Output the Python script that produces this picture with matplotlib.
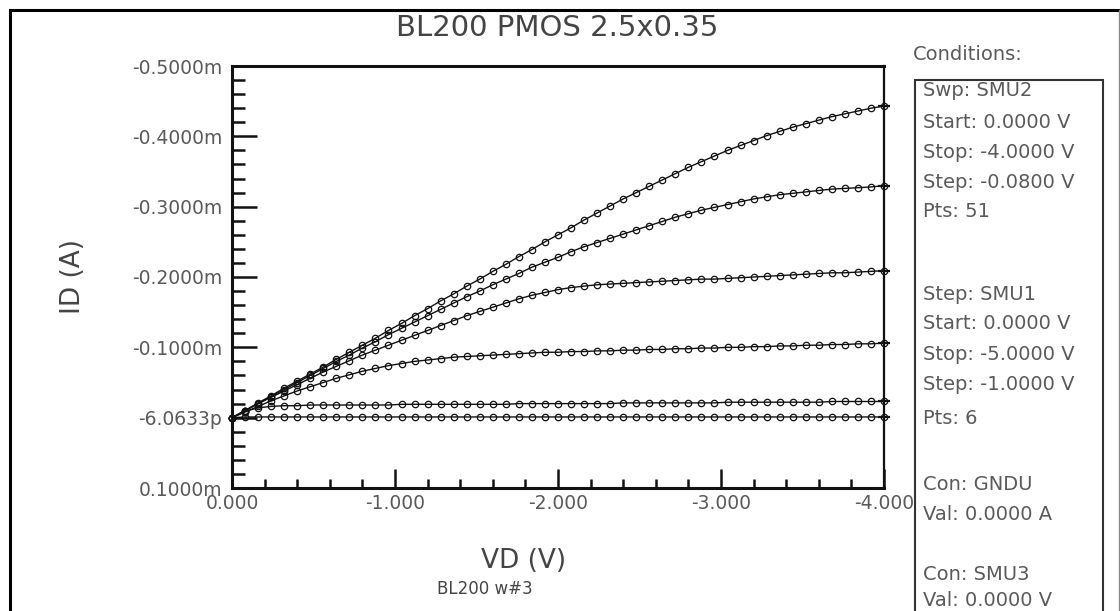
import matplotlib
matplotlib.use("Agg")
import matplotlib.pyplot as plt
from matplotlib.ticker import MultipleLocator, FixedLocator, FixedFormatter
from matplotlib.patches import Rectangle
from matplotlib.lines import Line2D

# sweep SMU2: 0 -> -4 V, 51 pts
vd = [0.00, -0.08, -0.16, -0.24, -0.32, -0.40, -0.48, -0.56, -0.64, -0.72,
      -0.80, -0.88, -0.96, -1.04, -1.12, -1.20, -1.28, -1.36, -1.44, -1.52,
      -1.60, -1.68, -1.76, -1.84, -1.92, -2.00, -2.08, -2.16, -2.24, -2.32,
      -2.40, -2.48, -2.56, -2.64, -2.72, -2.80, -2.88, -2.96, -3.04, -3.12,
      -3.20, -3.28, -3.36, -3.44, -3.52, -3.60, -3.68, -3.76, -3.84, -3.92, -4.00]

# drain current in mA, one list per gate step (SMU1 0 .. -5 V)
id_vg5 = [0.000, -0.010, -0.021, -0.031, -0.042, -0.052, -0.062, -0.072, -0.083, -0.093,
          -0.103, -0.113, -0.124, -0.134, -0.145, -0.155, -0.166, -0.176, -0.187, -0.197,
          -0.208, -0.218, -0.229, -0.239, -0.250, -0.260, -0.270, -0.281, -0.291, -0.301,
          -0.311, -0.320, -0.329, -0.338, -0.347, -0.356, -0.364, -0.372, -0.380, -0.387,
          -0.394, -0.401, -0.407, -0.413, -0.418, -0.423, -0.428, -0.432, -0.436, -0.440, -0.443]
id_vg4 = [0.000, -0.010, -0.020, -0.030, -0.040, -0.050, -0.060, -0.070, -0.080, -0.089,
          -0.099, -0.108, -0.118, -0.127, -0.136, -0.145, -0.154, -0.163, -0.172, -0.180,
          -0.189, -0.197, -0.205, -0.214, -0.221, -0.228, -0.236, -0.243, -0.249, -0.255,
          -0.261, -0.267, -0.273, -0.279, -0.285, -0.290, -0.295, -0.299, -0.303, -0.307,
          -0.311, -0.314, -0.317, -0.319, -0.321, -0.323, -0.325, -0.326, -0.327, -0.328, -0.330]
id_vg3 = [0.000, -0.010, -0.020, -0.029, -0.038, -0.047, -0.056, -0.065, -0.073, -0.081,
          -0.089, -0.096, -0.103, -0.110, -0.117, -0.124, -0.131, -0.138, -0.145, -0.151,
          -0.157, -0.163, -0.169, -0.174, -0.178, -0.182, -0.185, -0.187, -0.189, -0.190,
          -0.191, -0.192, -0.193, -0.194, -0.195, -0.196, -0.197, -0.197, -0.198, -0.199,
          -0.200, -0.201, -0.202, -0.203, -0.204, -0.205, -0.206, -0.206, -0.207, -0.208, -0.209]
id_vg2 = [0.000, -0.008, -0.016, -0.024, -0.031, -0.038, -0.044, -0.050, -0.056, -0.061,
          -0.066, -0.070, -0.074, -0.077, -0.080, -0.082, -0.084, -0.086, -0.087, -0.088,
          -0.089, -0.090, -0.091, -0.092, -0.093, -0.093, -0.094, -0.094, -0.095, -0.095,
          -0.096, -0.096, -0.097, -0.097, -0.098, -0.098, -0.099, -0.099, -0.100, -0.100,
          -0.101, -0.101, -0.102, -0.102, -0.103, -0.103, -0.104, -0.104, -0.105, -0.105, -0.106]
id_vg1 = [0.000, -0.009, -0.014, -0.016, -0.017, -0.017, -0.018, -0.018, -0.018, -0.018,
          -0.018, -0.018, -0.018, -0.019, -0.019, -0.019, -0.019, -0.019, -0.019, -0.019,
          -0.019, -0.019, -0.020, -0.020, -0.020, -0.020, -0.020, -0.020, -0.020, -0.020,
          -0.021, -0.021, -0.021, -0.021, -0.021, -0.021, -0.021, -0.021, -0.022, -0.022,
          -0.022, -0.022, -0.022, -0.022, -0.022, -0.022, -0.023, -0.023, -0.023, -0.023, -0.023]
id_vg0 = [0.000, -0.001, -0.001, -0.001, -0.001, -0.001, -0.001, -0.001, -0.001, -0.001,
          -0.001, -0.001, -0.001, -0.001, -0.001, -0.001, -0.001, -0.001, -0.001, -0.001,
          -0.001, -0.001, -0.001, -0.001, -0.001, -0.001, -0.001, -0.001, -0.001, -0.001,
          -0.001, -0.001, -0.001, -0.001, -0.001, -0.001, -0.001, -0.001, -0.001, -0.001,
          -0.001, -0.001, -0.001, -0.001, -0.001, -0.001, -0.001, -0.001, -0.001, -0.001, -0.001]

curves = [id_vg0, id_vg1, id_vg2, id_vg3, id_vg4, id_vg5]

ytick_vals = [-0.5e-3, -0.4e-3, -0.3e-3, -0.2e-3, -0.1e-3, 0.0, 0.1e-3]
ytick_labels = ["-0.5000m", "-0.4000m", "-0.3000m", "-0.2000m", "-0.1000m", "-6.0633p", "0.1000m"]
xtick_vals = [0.0, -1.0, -2.0, -3.0, -4.0]
xtick_labels = ["0.000", "-1.000", "-2.000", "-3.000", "-4.000"]

conditions = [("Swp: SMU2", 91), ("Start: 0.0000 V", 122), ("Stop: -4.0000 V", 152),
              ("Step: -0.0800 V", 182), ("Pts: 51", 211),
              ("Step: SMU1", 294), ("Start: 0.0000 V", 323), ("Stop: -5.0000 V", 354),
              ("Step: -1.0000 V", 384), ("Pts: 6", 418),
              ("Con: GNDU", 484), ("Val: 0.0000 A", 514),
              ("Con: SMU3", 575), ("Val: 0.0000 V", 600)]

W, H = 1120, 611
plt.rcParams['font.family'] = ['DejaVu Sans']


def fx(x):
    return x / W


def fy(y):
    return 1 - y / H


fig = plt.figure(figsize=(W / 100, H / 100), dpi=100)
fig.patch.set_facecolor("white")

ax = fig.add_axes([fx(232), fy(488), fx(884) - fx(232), fy(66) - fy(488)])

for c in curves:
    ida = [v * 1e-3 for v in c]
    ax.plot(vd, ida, color="#111111", lw=1.0, marker="o", ms=4.6,
            mfc="none", mec="#111111", mew=0.9, clip_on=False, zorder=3)
    # small end mark on the right frame
    ax.plot(vd[-1], ida[-1], marker="_", ms=8, mew=1.6, color="#111111",
            clip_on=False, zorder=4)

ax.set_xlim(0, -4)
ax.set_ylim(0.1e-3, -0.5e-3)

ax.xaxis.set_major_locator(FixedLocator(xtick_vals))
ax.xaxis.set_major_formatter(FixedFormatter(xtick_labels))
ax.xaxis.set_minor_locator(MultipleLocator(0.2))
ax.yaxis.set_major_locator(FixedLocator(ytick_vals))
ax.yaxis.set_major_formatter(FixedFormatter(ytick_labels))
ax.yaxis.set_minor_locator(MultipleLocator(0.02e-3))

ax.tick_params(axis="y", which="major", direction="in", length=18, width=1.8,
               pad=7, labelsize=13.5, labelcolor="#5a5a5a", color="#111111")
ax.tick_params(axis="y", which="minor", direction="in", length=9.5, width=1.8,
               color="#111111")
ax.tick_params(axis="x", which="major", direction="in", length=14, width=1.8,
               pad=4, labelsize=13.5, labelcolor="#5a5a5a", color="#111111")
ax.tick_params(axis="x", which="minor", direction="in", length=6.5, width=1.8,
               color="#111111")

for s in ["left", "bottom", "top"]:
    ax.spines[s].set_linewidth(2.2)
    ax.spines[s].set_color("#111111")
ax.spines["right"].set_linewidth(1.6)
ax.spines["right"].set_color("#111111")

# texts
fig.text(fx(557), fy(28), "BL200 PMOS 2.5x0.35", ha="center", va="center",
         fontsize=21, color="#444444")
fig.text(fx(73), fy(277), "ID (A)", ha="center", va="center", rotation=90,
         fontsize=19, color="#444444")
fig.text(fx(524), fy(561), "VD (V)", ha="center", va="center",
         fontsize=19, color="#444444")
fig.text(fx(485), fy(589), "BL200 w#3", ha="center", va="center",
         fontsize=12, color="#444444")
fig.text(fx(913), fy(54), "Conditions:", ha="left", va="center",
         fontsize=14, color="#5a5a5a")
for txt, yy in conditions:
    fig.text(fx(923), fy(yy), txt, ha="left", va="center", fontsize=14, color="#5a5a5a")

# conditions box
fig.add_artist(Rectangle((fx(915), fy(640)), fx(1103) - fx(915), fy(80) - fy(640),
                         transform=fig.transFigure, fill=False, ec="#333333", lw=1.5))

# outer frame of the screenshot
fig.add_artist(Line2D([fx(10), fx(1120)], [fy(10), fy(10)], transform=fig.transFigure,
                      color="black", lw=2.2))
fig.add_artist(Line2D([fx(10), fx(10)], [fy(10), fy(611)], transform=fig.transFigure,
                      color="black", lw=2.2))
fig.add_artist(Line2D([fx(1119), fx(1119)], [fy(10), fy(611)], transform=fig.transFigure,
                      color="#888888", lw=1.0))

fig.savefig("out.png", dpi=100, facecolor="white")
